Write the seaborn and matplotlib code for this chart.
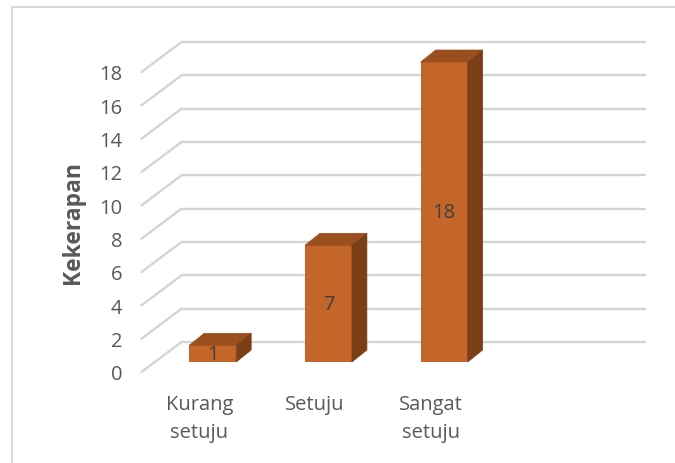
import matplotlib
matplotlib.use("Agg")
import matplotlib.pyplot as plt
from matplotlib.patches import Polygon
from matplotlib.lines import Line2D
import seaborn as sns
import pandas as pd

# ---- data ----
categories = ["Kurang\nsetuju", "Setuju", "Sangat\nsetuju"]
values = [1, 7, 18]
y_ticks = [0, 2, 4, 6, 8, 10, 12, 14, 16, 18]
y_label = "Kekerapan"

# ---- style ----
sns.set_style("white")
plt.rcParams["font.family"] = ["Open Sans", "DejaVu Sans"]
TXT = "#595959"
FRONT = "#C4652A"
TOP = "#9B4F1E"
SIDE = "#7B3F18"
GRID = "#D4D4D4"

DPI = 100
fig = plt.figure(figsize=(6.75, 4.64), dpi=DPI)
W, H = 675, 464
# front plane of the axes (pixels from top-left)
left_px, right_px, top_px, bot_px = 141.5, 604.5, 73, 373
ax = fig.add_axes([left_px / W, (H - bot_px) / H, (right_px - left_px) / W, (bot_px - top_px) / H])

df = pd.DataFrame({"cat": categories, "val": values})
sns.barplot(data=df, x="cat", y="val", color=FRONT, width=0.406, ax=ax,
            saturation=1, edgecolor="none", linewidth=0)
ax.set_xlim(-0.5, 3.5)
ax.set_ylim(0, 18)

# pixel -> data conversion
ppx = (right_px - left_px) / 4.0        # pixels per x unit
ppy = (bot_px - top_px) / 18.0          # pixels per y unit
def off(dx_px, dy_px):
    return dx_px / ppx, dy_px / ppy

# depth vectors (pixels, y up)
Fx, Fy = off(13.3, 10)    # front of bars relative to front plane
Dx, Dy = off(15, 12)      # bar depth
Bx, By = off(40, 30)      # back wall

# back wall gridlines + side diagonals
for v in y_ticks:
    ax.add_line(Line2D([-0.5 + Bx, 3.5 + Bx], [v + By, v + By], color=GRID, lw=1.7,
                       clip_on=False, zorder=0.5))
    ax.add_line(Line2D([-0.5, -0.5 + Bx], [v, v + By], color=GRID, lw=1.7,
                       clip_on=False, zorder=0.5))

# 3D bars: shift front faces, add top and side faces
for bar in ax.patches:
    x0 = bar.get_x() + Fx
    w = bar.get_width()
    h = bar.get_height()
    y0 = Fy
    bar.set_xy((x0, y0))
    bar.set_zorder(3)
    bar.set_clip_on(False)
    x1 = x0 + w
    top = Polygon([(x0, y0 + h), (x1, y0 + h), (x1 + Dx, y0 + h + Dy), (x0 + Dx, y0 + h + Dy)],
                  closed=True, facecolor=TOP, edgecolor=TOP, lw=0.5, zorder=3, clip_on=False)
    side = Polygon([(x1, y0), (x1 + Dx, y0 + Dy), (x1 + Dx, y0 + h + Dy), (x1, y0 + h)],
                   closed=True, facecolor=SIDE, edgecolor=SIDE, lw=0.5, zorder=3, clip_on=False)
    ax.add_patch(top)
    ax.add_patch(side)
    ax.text(x0 + w / 2, y0 + h / 2, f"{int(h)}", ha="center", va="center",
            fontsize=14.5, color="#404040", zorder=4)

# axes cosmetics
for s in ax.spines.values():
    s.set_visible(False)
ax.set_yticks(y_ticks)
ax.set_yticklabels([str(t) for t in y_ticks])
ax.tick_params(axis="y", length=0, pad=14, labelsize=14.5, labelcolor=TXT)
ax.tick_params(axis="x", length=0, pad=16, labelsize=14.5, labelcolor=TXT)
for lab in ax.get_xticklabels():
    lab.set_linespacing(1.5)
ax.set_xlabel("")
ax.set_ylabel(y_label, fontsize=16.5, fontweight="bold", color=TXT)
ax.yaxis.set_label_coords(-0.123, 0.5)

# chart border
xl = 11.5 / W
yt = 1 - 7.5 / H
fig.add_artist(Line2D([xl, xl], [0, yt], transform=fig.transFigure, color="#D9D9D9", lw=1.5))
fig.add_artist(Line2D([xl, 1], [yt, yt], transform=fig.transFigure, color="#D9D9D9", lw=1.5))

fig.savefig("out.png", dpi=DPI)
